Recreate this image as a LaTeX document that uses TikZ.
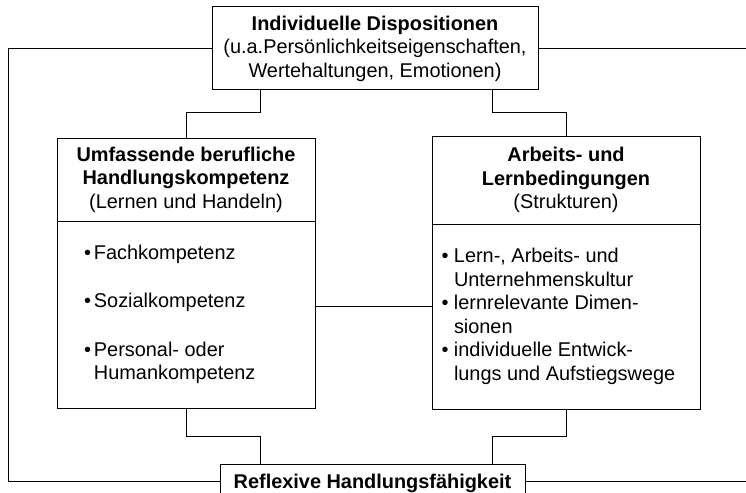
\documentclass[tikz,border=0pt]{standalone}
\usepackage{fontspec}
\setmainfont{Liberation Sans}
\usetikzlibrary{positioning,calc}
\tikzset{
  box/.style={draw, outer sep=0pt, inner sep=2pt, align=center},
  bodytext/.style={anchor=north west, inner sep=0pt, align=left},
}
\newcommand{\lbull}{\textbullet\hspace{3pt}}
\newcommand{\rbull}{\textbullet\ }

\begin{document}
\begin{tikzpicture}[x=1pt, y=-1pt, line width=1pt,
    font=\fontsize{19.9pt}{23.5pt}\selectfont]
  \clip (0,0) rectangle (746,492);
  % boxes
  \node[box, anchor=north west, minimum width=326pt, minimum height=83pt] (dispo) at (212,7)
    {\textbf{Individuelle Dispositionen}\\(u.a.Persönlichkeitseigenschaften,\\Wertehaltungen, Emotionen)};
  \node[box, anchor=north west, minimum width=258pt, minimum height=83pt] (lhead) at (57,138)
    {\textbf{Umfassende berufliche}\\\textbf{Handlungskompetenz}\\(Lernen und Handeln)};
  \node[box, below=0pt of lhead, minimum width=258pt, minimum height=187pt] (lbody) {};
  \node[box, anchor=north west, minimum width=268pt, minimum height=88pt] (rhead) at (432,136)
    {\textbf{Arbeits- und}\\\textbf{Lernbedingungen}\\(Strukturen)};
  \node[box, below=0pt of rhead, minimum width=268pt, minimum height=185pt] (rbody) {};
  \node[box, minimum width=305pt, minimum height=34pt, text depth=0pt] (reflex) at (372.5,481)
    {\textbf{Reflexive Handlungsfähigkeit}};
  % lists
  \node[bodytext] (ltext) at ([xshift=26.5pt, yshift=-23.5pt]lbody.north west)
    {\lbull Fachkompetenz\\[25pt]\lbull Sozialkompetenz\\[25pt]\lbull Personal- oder\\\phantom{\lbull}Humankompetenz};
  \node[bodytext] (rtext) at ([xshift=9pt, yshift=-24pt]rbody.north west)
    {\rbull Lern-, Arbeits- und\\\phantom{\rbull}Unternehmenskultur\\\rbull lernrelevante Dimen-\\\phantom{\rbull}sionen\\\rbull individuelle Entwick-\\\phantom{\rbull}lungs und Aufstiegswege};
  % frame
  \coordinate (lb) at (8,481);
  \coordinate (redge) at (750,0);
  \draw (dispo.west) -| (lb) -- (reflex.west);
  \draw (dispo.east) -- (dispo.east -| redge);
  \draw (reflex.east) -- (reflex.east -| redge);
  % connectors
  \draw ([xshift=-115pt]dispo.south) -- ++(0,23) -| (lhead.north);
  \draw ([xshift=117pt]dispo.south) -- ++(0,23) -| (rhead.north);
  \draw (lbody.south) -- ++(0,28) -| ([xshift=-112.5pt]reflex.north);
  \draw (rbody.south) -- ++(0,27) -| ([xshift=119.5pt]reflex.north);
  \draw ([yshift=8.5pt]lbody.east) -- ([yshift=8.5pt]lbody.east -| rbody.west);
\end{tikzpicture}
\end{document}
